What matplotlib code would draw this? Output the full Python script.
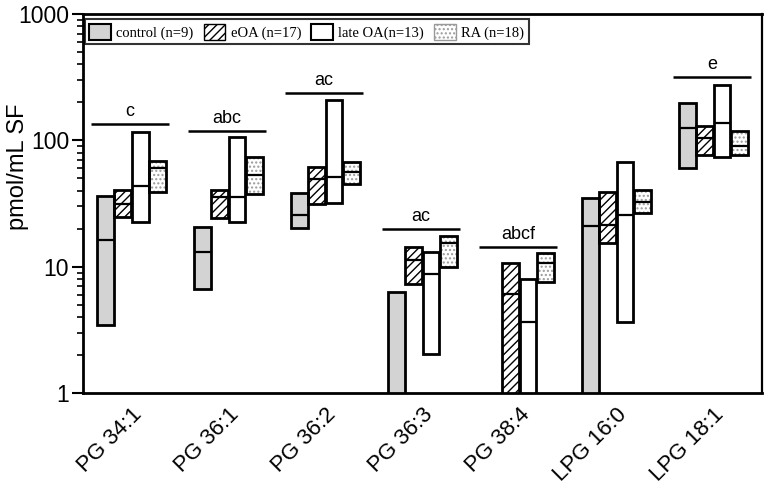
import numpy as np
import matplotlib
matplotlib.use("Agg")
import matplotlib.pyplot as plt
from matplotlib.patches import Patch
from matplotlib.ticker import FixedLocator, FixedFormatter, LogLocator, NullFormatter

categories = ["PG 34:1", "PG 36:1", "PG 36:2", "PG 36:3", "PG 38:4", "LPG 16:0", "LPG 18:1"]
series = ["control (n=9)", "eOA (n=17)", "late OA(n=13)", "RA (n=18)"]

# low / median / high per series (values below 1 fall off the axis)
control_low = [3.45, 6.66, 20.4, 0.5, np.nan, 0.5, 60.1]
control_med = [16.3, 13.1, 25.5, 0.5, np.nan, 21.1, 125]
control_high = [36.3, 20.7, 38.1, 6.31, np.nan, 34.8, 197]

eoa_low = [24.6, 24.2, 31.4, 7.26, 0.5, 15.3, 76.6]
eoa_med = [31.4, 35.8, 49.2, 11.3, 6.04, 21.4, 105]
eoa_high = [40.5, 40.5, 61.2, 14.4, 10.8, 39.3, 130]

late_low = [22.7, 22.7, 31.8, 2.02, 0.5, 3.67, 74.3]
late_med = [43.5, 35.8, 51.0, 8.75, 3.67, 25.7, 137]
late_high = [117, 107, 209, 13.1, 8.04, 67.1, 275]

ra_low = [39.3, 37.6, 45.2, 9.89, 7.52, 26.5, 76.6]
ra_med = [60.1, 53.5, 56.5, 15.3, 10.8, 32.7, 90.3]
ra_high = [69.0, 74.3, 67.8, 17.5, 12.8, 40.5, 119]

sig_labels = ["c", "abc", "ac", "ac", "abcf", "", "e"]
sig_levels = [134, 119, 239, 19.8, 14.4, np.nan, 316]

plt.rcParams['font.family'] = ['Liberation Sans', 'DejaVu Sans']
plt.rcParams['hatch.linewidth'] = 1.0

fig = plt.figure(figsize=(7.68, 4.90), dpi=100)
ax = fig.add_axes([0.108, 0.198, 0.884, 0.773])

x = np.arange(len(categories))
width = 0.172
offsets = [-0.27, -0.09, 0.09, 0.27]

lows = [control_low, eoa_low, late_low, ra_low]
meds = [control_med, eoa_med, late_med, ra_med]
highs = [control_high, eoa_high, late_high, ra_high]
faces = ['#d3d3d3', 'white', 'white', 'white']
hatches = [None, '////', None, '....']
hatch_cols = [None, 'black', None, '#9a9a9a']
lw = 2.0

for s in range(4):
    lo = np.array(lows[s], dtype=float)
    hi = np.array(highs[s], dtype=float)
    md = np.array(meds[s], dtype=float)
    xs = x + offsets[s]
    ok = ~np.isnan(hi)
    ax.bar(xs[ok], hi[ok] - lo[ok], bottom=lo[ok], width=width, color=faces[s],
           edgecolor='none', linewidth=0, zorder=2)
    if hatches[s]:
        ax.bar(xs[ok], hi[ok] - lo[ok], bottom=lo[ok], width=width, color='none',
               edgecolor=hatch_cols[s], hatch=hatches[s], linewidth=0, zorder=3)
    ax.bar(xs[ok], hi[ok] - lo[ok], bottom=lo[ok], width=width, color='none',
           edgecolor='black', linewidth=lw, zorder=4)
    ax.hlines(md[ok], xs[ok] - width / 2, xs[ok] + width / 2, colors='black',
              linewidth=1.6, zorder=5)

for i, (lab, lev) in enumerate(zip(sig_labels, sig_levels)):
    if not lab:
        continue
    ax.hlines(lev, i - 0.415, i + 0.385, colors='black', linewidth=1.8, zorder=5)
    ax.annotate(lab, (i - 0.015, lev), xytext=(0, 3), textcoords='offset points',
                ha='center', va='bottom', fontsize=13)

ax.set_yscale('log')
ax.set_ylim(1, 1000)
ax.set_xlim(-0.5, 6.5)
ax.yaxis.set_major_locator(FixedLocator([1, 10, 100, 1000]))
ax.yaxis.set_major_formatter(FixedFormatter(["1", "10", "100", "1000"]))
ax.yaxis.set_minor_locator(LogLocator(base=10, subs=np.arange(2, 10)))
ax.yaxis.set_minor_formatter(NullFormatter())
ax.tick_params(axis='y', which='major', length=8, width=1.5, labelsize=16.5,
               direction='out', pad=2)
ax.tick_params(axis='y', which='minor', length=4.5, width=1.2, direction='out')
ax.set_xticks(x)
ax.set_xticklabels(categories, rotation=45, ha='right', rotation_mode='anchor', fontsize=16)
ax.tick_params(axis='x', length=0, pad=8)
ax.set_ylabel("pmol/mL SF", fontsize=17)
ax.yaxis.set_label_coords(-0.08, 0.596)

for side in ['left', 'bottom', 'top']:
    ax.spines[side].set_linewidth(2.0)
ax.spines['right'].set_linewidth(1.6)

handles = [
    Patch(facecolor='#d3d3d3', edgecolor='black', linewidth=1.5),
    Patch(facecolor='white', edgecolor='black', hatch='////', linewidth=1.0),
    Patch(facecolor='white', edgecolor='black', linewidth=1.5),
    Patch(facecolor='white', edgecolor='#9a9a9a', hatch='....', linewidth=1.0),
]
leg = ax.legend(handles, series, loc='upper left', bbox_to_anchor=(0.003, 0.987),
                borderaxespad=0, ncol=4, frameon=True, fancybox=False,
                prop={'family': 'Liberation Serif', 'size': 10.5},
                handlelength=1.45, handleheight=1.35, handletextpad=0.4,
                columnspacing=0.7, borderpad=0.3)
leg.get_frame().set_edgecolor('black')
leg.get_frame().set_linewidth(1.5)

fig.savefig("out.png", dpi=100)
